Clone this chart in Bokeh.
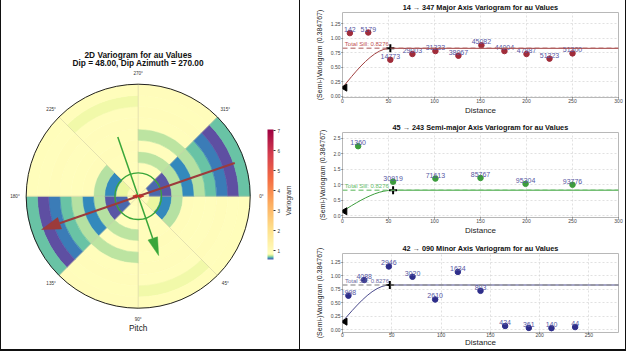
import math
from bokeh.plotting import figure
from bokeh.layouts import row, column
from bokeh.models import (Range1d, LinearColorMapper, ColorBar, FixedTicker,
                          NumeralTickFormatter, ColumnDataSource, Label, Span, Spacer)
from bokeh.embed import file_html
from bokeh.resources import INLINE
from bokeh.core.properties import value

FONT = "Liberation Sans"

# ---------------- data: 2D variogram map (polar) ----------------
ring_edges = [0, 25, 50, 75, 100, 125, 150, 175, 200, 225, 250]
sector_start_deg = [0, 45, 90, 135]          # clockwise from east; +180 mirrors
gamma_sector_000 = [0.95, 0.79, 0.61, 0.73, 0.95, 0.92, 0.90, 0.95, 0.90, 0.93]
gamma_sector_045 = [0.95, 0.92, 0.90, 0.93, 0.96, 0.92, 0.94, 0.90, 0.80, 0.92]
gamma_sector_090 = [0.90, 0.84, 0.88, 0.74, 0.90, 0.74, 0.92, 0.95, 0.92, 0.94]
gamma_sector_135 = [0.90, 0.58, 0.56, 0.73, 0.61, 0.73, 0.67, 0.60, 0.555, 0.67]
angle_tick_deg = [0, 45, 90, 135, 180, 225, 270, 315]
angle_tick_labels = ["0°", "45°", "90°", "135°", "180°", "225°", "270°", "315°"]
cbar_ticks = [1, 2, 3, 4, 5, 6, 7]
cbar_low, cbar_center, cbar_high = 0.55, 0.83, 7.05

major_arrow_deg, major_arrow_len = 161, 228
semi_arrow_deg, semi_arrow_len = 71, 140
minor_arrow_deg, minor_arrow_len = 180, 12
range_circle_r = 52

# ---------------- data: directional variograms ----------------
sill = 0.8276
nugget = 0.15

major_lag = [8, 28, 52, 76, 101, 126, 151, 176, 200, 225, 250]
major_gamma = [1.09, 1.10, 0.63, 0.73, 0.78, 0.70, 0.88, 0.78, 0.73, 0.65, 0.74]
major_pairs = [142, 5179, 14773, 29003, 31333, 38067, 45082, 44004, 47987, 51223, 51300]
major_model_h = [0, 5, 10, 15, 20, 25, 30, 35, 40, 45, 52, 300]
major_model_g = [0.15, 0.247, 0.343, 0.435, 0.522, 0.601, 0.671, 0.731, 0.778, 0.810, 0.8276, 0.8276]
major_range = 52

semi_lag = [17, 55, 101, 150, 199, 250]
semi_gamma = [2.24, 1.10, 1.20, 1.22, 1.03, 1.00]
semi_pairs = [1360, 30919, 71613, 85767, 95304, 93776]
semi_model_h = [0, 5, 10, 15, 20, 25, 30, 35, 40, 45, 50, 55, 300]
semi_model_g = [0.15, 0.242, 0.333, 0.420, 0.503, 0.580, 0.649, 0.710, 0.759, 0.796, 0.819, 0.8276, 0.8276]
semi_range = 55

minor_lag = [6, 22, 47, 71, 94, 117, 140, 165, 189, 212, 236]
minor_gamma = [0.63, 0.92, 1.17, 0.98, 0.56, 1.07, 0.72, 0.07, 0.035, 0.03, 0.05]
minor_pairs = [1998, 4088, 2946, 3020, 2610, 1634, 803, 424, 361, 140, 44]
minor_model_h = [0, 5, 10, 15, 20, 25, 30, 35, 40, 45, 48, 300]
minor_model_g = [0.15, 0.256, 0.359, 0.457, 0.549, 0.632, 0.703, 0.760, 0.801, 0.824, 0.8276, 0.8276]
minor_range = 48

# ---------------- colour map (Spectral_r, two-slope) ----------------
SPECTRAL = ['#5e4fa2', '#3288bd', '#66c2a5', '#abdda4', '#e6f598', '#ffffbf',
            '#fee08b', '#fdae61', '#f46d43', '#d53e4f', '#9e0142']


def _rgb(h):
    return tuple(int(h[i:i + 2], 16) for i in (1, 3, 5))


def spectral_at(t):
    t = min(max(t, 0.0), 1.0) * (len(SPECTRAL) - 1)
    i = min(int(t), len(SPECTRAL) - 2)
    f = t - i
    a, b = _rgb(SPECTRAL[i]), _rgb(SPECTRAL[i + 1])
    return '#%02x%02x%02x' % tuple(int(round(a[j] + (b[j] - a[j]) * f)) for j in range(3))


NPAL = 1024
palette = []
for i in range(NPAL):
    v = cbar_low + (cbar_high - cbar_low) * i / (NPAL - 1)
    if v < cbar_center:
        t = 0.5 * (v - cbar_low) / (cbar_center - cbar_low)
    else:
        t = 0.5 + 0.5 * (v - cbar_center) / (cbar_high - cbar_center)
    palette.append(spectral_at(t))
mapper = LinearColorMapper(palette=palette, low=cbar_low, high=cbar_high)

# ---------------- left: polar map ----------------
LW, LH = 298, 349
S = 112.0 / ring_edges[-1]          # px per distance unit
CX, CY = 136.7, 153.3               # centre in px (from left / bottom)
left = figure(width=LW, height=LH, output_backend="svg", toolbar_location=None,
              x_range=Range1d(-CX / S, (LW - CX) / S),
              y_range=Range1d(-CY / S, (LH - CY) / S),
              x_axis_location=None, y_axis_location=None,
              min_border=0, min_border_left=0, min_border_right=0,
              min_border_top=0, min_border_bottom=0)
left.outline_line_color = None
left.xgrid.visible = False
left.ygrid.visible = False
left.background_fill_color = "white"
left.border_fill_color = "white"

inner, outer, a_start, a_end, vals = [], [], [], [], []
sectors = [gamma_sector_000, gamma_sector_045, gamma_sector_090, gamma_sector_135]
for half in (0, 180):
    for sdeg, g in zip(sector_start_deg, sectors):
        a0 = sdeg + half
        for k, gv in enumerate(g):
            inner.append(ring_edges[k])
            outer.append(ring_edges[k + 1])
            a_start.append(math.radians(-(a0 + 45)))
            a_end.append(math.radians(-a0))
            vals.append(gv)
wsrc = ColumnDataSource(dict(inner=inner, outer=outer, start=a_start, end=a_end, val=vals))
left.annular_wedge(x=0, y=0, inner_radius="inner", outer_radius="outer",
                   start_angle="start", end_angle="end", source=wsrc,
                   fill_color={"field": "val", "transform": mapper},
                   line_color={"field": "val", "transform": mapper}, line_width=0.6)

R = ring_edges[-1]
gx1 = [R * math.cos(math.radians(-a)) for a in angle_tick_deg]
gy1 = [R * math.sin(math.radians(-a)) for a in angle_tick_deg]
left.segment(x0=0, y0=0, x1=gx1, y1=gy1, line_color="#c8c4a0", line_alpha=0.6, line_width=0.8)
left.circle(x=[0], y=[0], radius=R, fill_color=None, line_color="#222222", line_width=1)

lx = [1.1 * R * math.cos(math.radians(-a)) for a in angle_tick_deg]
ly = [1.1 * R * math.sin(math.radians(-a)) for a in angle_tick_deg]
left.text(x=lx, y=ly, text=angle_tick_labels, text_align="center", text_baseline="middle",
          text_font=value(FONT), text_font_size="4.6px", text_color="#333333")

left.circle(x=[0], y=[0], radius=range_circle_r, fill_color=None,
            line_color="#3aa63a", line_width=1.4)


def draw_arrow(p, deg, length, color, lw, head_len_px, head_w_px):
    a = math.radians(-deg)
    ux, uy = math.cos(a), math.sin(a)
    hl, hw = head_len_px / S, head_w_px / S
    tipx, tipy = length * ux, length * uy
    basex, basey = tipx - hl * ux, tipy - hl * uy
    p.line([-tipx, basex], [-tipy, basey], line_color=color, line_width=lw)
    px_, py_ = -uy, ux
    p.patch([tipx, basex + hw / 2 * px_, basex - hw / 2 * px_],
            [tipy, basey + hw / 2 * py_, basey - hw / 2 * py_],
            fill_color=color, line_color=color, line_width=0.5)


draw_arrow(left, semi_arrow_deg, semi_arrow_len, "#3aa63a", 1.5, 18, 10)
draw_arrow(left, major_arrow_deg, major_arrow_len, "#9c3b3b", 2.0, 19, 12)
draw_arrow(left, minor_arrow_deg, minor_arrow_len, "#c0302a", 1.2, 4, 4)
draw_arrow(left, minor_arrow_deg + 180, minor_arrow_len, "#c0302a", 1.2, 4, 4)

left.add_layout(Label(x=CX, y=LH - 54, x_units="screen", y_units="screen",
                      text="2D Variogram for au Values", text_align="center",
                      text_baseline="middle", text_font=FONT, text_font_size="8.3px",
                      text_font_style="bold", text_color="#111111"))
left.add_layout(Label(x=CX, y=LH - 62.8, x_units="screen", y_units="screen",
                      text="Dip = 48.00, Dip Azimuth = 270.00", text_align="center",
                      text_baseline="middle", text_font=FONT, text_font_size="8.3px",
                      text_font_style="bold", text_color="#111111"))
left.add_layout(Label(x=CX, y=LH - 327, x_units="screen", y_units="screen",
                      text="Pitch", text_align="center", text_baseline="middle",
                      text_font=FONT, text_font_size="8.3px", text_color="#222222"))
left.add_layout(Label(x=287, y=LH - 200, x_units="screen", y_units="screen",
                      text="Variogram", text_align="center", text_baseline="middle",
                      angle=math.pi / 2, text_font=FONT, text_font_size="6.6px",
                      text_color="#333333"))

cb = ColorBar(color_mapper=mapper, location=(266, LH - 259), width=6, height=130,
              ticker=FixedTicker(ticks=cbar_ticks), padding=0, margin=0,
              label_standoff=2, major_label_text_font_size="4.6px",
              major_label_text_font=FONT, major_label_text_color="#333333",
              major_tick_in=0, major_tick_out=2, major_tick_line_color="#333333",
              bar_line_color=None, border_line_color=None, background_fill_alpha=0)
left.add_layout(cb, "center")


# ---------------- right: directional variograms ----------------
def make_panel(h, top, bottom, lft, title, lag, gam, pairs, pt_color, line_color,
               sill_color, sill_alpha, text_color, mh, mg, rng, xmax, ylo, yhi,
               yticks, yfmt, xticks, xlab_standoff=0, xaxis_standoff=0):
    W = 325
    right_b = 7
    p = figure(width=W, height=h, x_range=Range1d(0, xmax), y_range=Range1d(ylo, yhi),
               toolbar_location=None, output_backend="svg", title=title,
               min_border_left=lft, min_border_right=right_b,
               min_border_top=top, min_border_bottom=bottom)
    p.title.align = "center"
    p.title.vertical_align = "middle"
    p.title.text_font = FONT
    p.title.text_font_size = "7.3px"
    p.title.text_font_style = "bold"
    p.title.text_color = "#111111"
    p.title.standoff = 0
    p.outline_line_color = "#b8b8b8"
    p.background_fill_color = "white"
    p.border_fill_color = "white"
    for ax in (p.xaxis[0], p.yaxis[0]):
        ax.axis_line_color = None
        ax.major_tick_in = 0
        ax.major_tick_out = 1
        ax.major_tick_line_color = "#555555"
        ax.minor_tick_line_color = None
        ax.major_label_text_font = FONT
        ax.major_label_text_font_size = "5px"
        ax.major_label_text_color = "#444444"
        ax.major_label_standoff = 1
        ax.axis_label_text_font = FONT
        ax.axis_label_text_font_style = "normal"
        ax.axis_label_text_color = "#222222"
    p.xaxis.major_label_standoff = xlab_standoff
    p.xaxis.ticker = FixedTicker(ticks=xticks)
    p.yaxis.ticker = FixedTicker(ticks=yticks)
    p.yaxis.formatter = NumeralTickFormatter(format=yfmt)
    p.yaxis.axis_label = "(Semi-)Variogram (0.384767)"
    p.yaxis.axis_label_text_font_size = "7px"
    p.yaxis.axis_label_standoff = 5
    p.xaxis.axis_label = "Distance"
    p.xaxis.axis_label_text_font_size = "8px"
    p.xaxis.axis_label_standoff = xaxis_standoff
    p.grid.grid_line_color = "#d4d4d4"
    p.grid.grid_line_dash = "2 2"
    p.grid.grid_line_width = 0.7

    p.scatter(lag, gam, size=5.5, fill_color=pt_color, line_color=pt_color)
    p.text(x=lag, y=gam, text=[str(n) for n in pairs], text_align="center",
           text_baseline="bottom", y_offset=-1, text_font=value(FONT),
           text_font_size="7px", text_color="#5757a3")
    p.add_layout(Span(location=sill, dimension="width", line_color=sill_color,
                      line_alpha=sill_alpha, line_dash="5 3", line_width=1.6))
    p.line(mh, mg, line_color=line_color, line_width=1)
    p.text(x=[2.5], y=[sill], text=["Total Sill: 0.8276"], text_baseline="bottom",
           y_offset=-1, text_font=value(FONT), text_font_size="6px", text_color=text_color)
    p.scatter([2.5], [nugget], marker="triangle", angle=math.pi / 2, size=7,
              fill_color="black", line_color="black")
    p.scatter([rng], [sill], marker="cross", size=8, line_width=2, line_color="black")
    return p


p1 = make_panel(119, 12, 22, 42, "14 \u2192 347 Major Axis Variogram for au Values",
                major_lag, major_gamma, major_pairs, "#a02c3a", "#a04040",
                "#b06060", 0.7, "#c05050", major_model_h, major_model_g, major_range,
                300, -0.02, 1.445, [0, 0.25, 0.5, 0.75, 1.0, 1.25], "0.00",
                [0, 50, 100, 150, 200, 250, 300])
p2 = make_panel(118, 13, 18, 40, "45 \u2192 243 Semi-major Axis Variogram for au Values",
                semi_lag, semi_gamma, semi_pairs, "#3c9c3c", "#3c9c3c",
                "#70c070", 0.8, "#66bb66", semi_model_h, semi_model_g, semi_range,
                300, -0.05, 2.68, [0, 0.5, 1.0, 1.5, 2.0, 2.5], "0.0",
                [0, 50, 100, 150, 200, 250, 300])
p3 = make_panel(112, 16, 13, 42, "42 \u2192 090 Minor Axis Variogram for au Values",
                minor_lag, minor_gamma, minor_pairs, "#2e2e8a", "#4a4a8c",
                "#909090", 0.8, "#6a6aa4", minor_model_h, minor_model_g, minor_range,
                280, -0.05, 1.41, [0, 0.25, 0.5, 0.75, 1.0, 1.25], "0.00",
                [0, 50, 100, 150, 200, 250], xlab_standoff=-1, xaxis_standoff=-2)


def bar(w, h):
    return Spacer(width=w, height=h, styles={"background-color": "#111111"})


layout = column(
    row(bar(1, LH), left, bar(1, LH), column(p1, p2, p3), bar(1, LH)),
    bar(626, 2),
)

open("out.html", "w").write(file_html(layout, INLINE))
